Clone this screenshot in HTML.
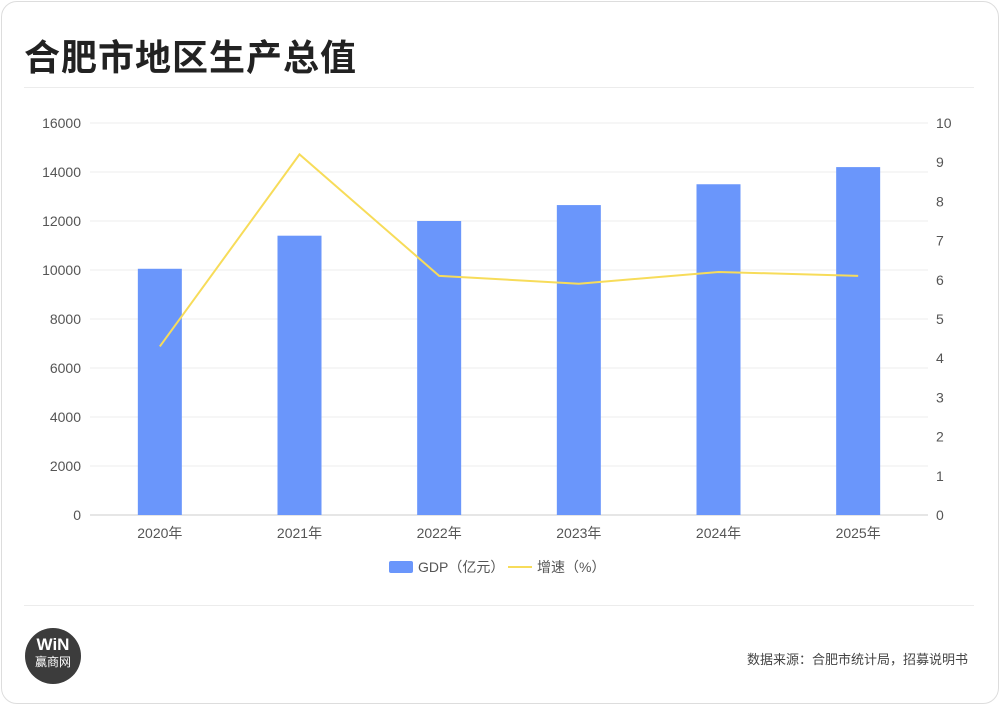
<!DOCTYPE html>
<html><head><meta charset="utf-8"><style>
body{margin:0;background:#fff;width:1000px;height:705px;overflow:hidden;font-family:"Liberation Sans","Noto Sans CJK SC",sans-serif}
.card{position:absolute;left:1px;top:1px;width:996px;height:701px;border:1px solid #ddd;border-radius:16px;background:#fff}
h1{position:absolute;left:24px;top:29px;margin:0;font-size:36px;font-weight:bold;color:#222;letter-spacing:1px}
.rule{position:absolute;left:24px;width:950px;height:1px;background:#ececec}
.logo{position:absolute;left:25px;top:628px;width:56px;height:56px;border-radius:50%;background:#3c3c3c;color:#fff;text-align:center}
.src{position:absolute;right:32px;top:649px;font-size:13px;color:#444}
</style></head><body>
<div class="card"></div>
<h1>合肥市地区生产总值</h1>
<div class="rule" style="top:87px"></div>
<div class="rule" style="top:605px"></div>
<div class="logo"><div style="font-weight:bold;font-size:17px;margin-top:8px;line-height:18px">WiN</div><div style="font-size:12px;line-height:16px">赢商网</div></div>
<div class="src">数据来源：合肥市统计局，招募说明书</div>
<svg id="chart" width="1000" height="705" style="position:absolute;left:0;top:0"></svg>
<script>
const categories=["2020年","2021年","2022年","2023年","2024年","2025年"];
const gdpValues=[10050,11400,12000,12650,13500,14200];
const growthValues=[4.3,9.2,6.1,5.9,6.2,6.1];
const leftTicks=[0,2000,4000,6000,8000,10000,12000,14000,16000];
const rightTicks=[0,1,2,3,4,5,6,7,8,9,10];
const svg=document.getElementById('chart');const NS='http://www.w3.org/2000/svg';
const X0=90,X1=928,Y0=515,Y1=123;
const band=(X1-X0)/categories.length;
const xc=i=>X0+band*(i+0.5);
const yL=v=>Y0-(v/16000)*(Y0-Y1);
const yR=v=>Y0-(v/10)*(Y0-Y1);
function mk(t,a,txt){const e=document.createElementNS(NS,t);for(const k in a)e.setAttribute(k,a[k]);if(txt!=null)e.textContent=txt;svg.appendChild(e);return e;}
leftTicks.forEach(v=>{
 const g=mk('line',{x1:X0,x2:X1,y1:yL(v),y2:yL(v),stroke:v===0?'#ccc':'#eee','stroke-width':1});
 
 
 const t=mk('text',{x:81,y:yL(v)+5,'text-anchor':'end','font-size':14,fill:'#555','font-family':'Liberation Sans, sans-serif'},v);
 
 
});
rightTicks.forEach(v=>{
 const t=mk('text',{x:936,y:yR(v)+5,'font-size':14,fill:'#555','font-family':'Liberation Sans, sans-serif'},v);
 
 
});
categories.forEach((c,i)=>{
 const b=mk('rect',{x:xc(i)-22,y:yL(gdpValues[i]),width:44,height:Y0-yL(gdpValues[i]),fill:'#6a96fb'});
 
 
 const t=mk('text',{x:xc(i),y:538,'text-anchor':'middle','font-size':14,fill:'#555'},c);
 
 
});
const ln=mk('polyline',{points:growthValues.map((v,i)=>xc(i)+','+yR(v)).join(' '),fill:'none',stroke:'#f7dc5a','stroke-width':2});


const l1=mk('rect',{x:389,y:561,width:24,height:12,rx:2,fill:'#6a96fb'});


const l1t=mk('text',{x:418,y:572,'font-size':14,fill:'#555'},'GDP（亿元）');


const l2=mk('line',{x1:508,x2:532,y1:567,y2:567,stroke:'#f7dc5a','stroke-width':2});


const l2t=mk('text',{x:537,y:572,'font-size':14,fill:'#555'},'增速（%）');


</script>
</body></html>
